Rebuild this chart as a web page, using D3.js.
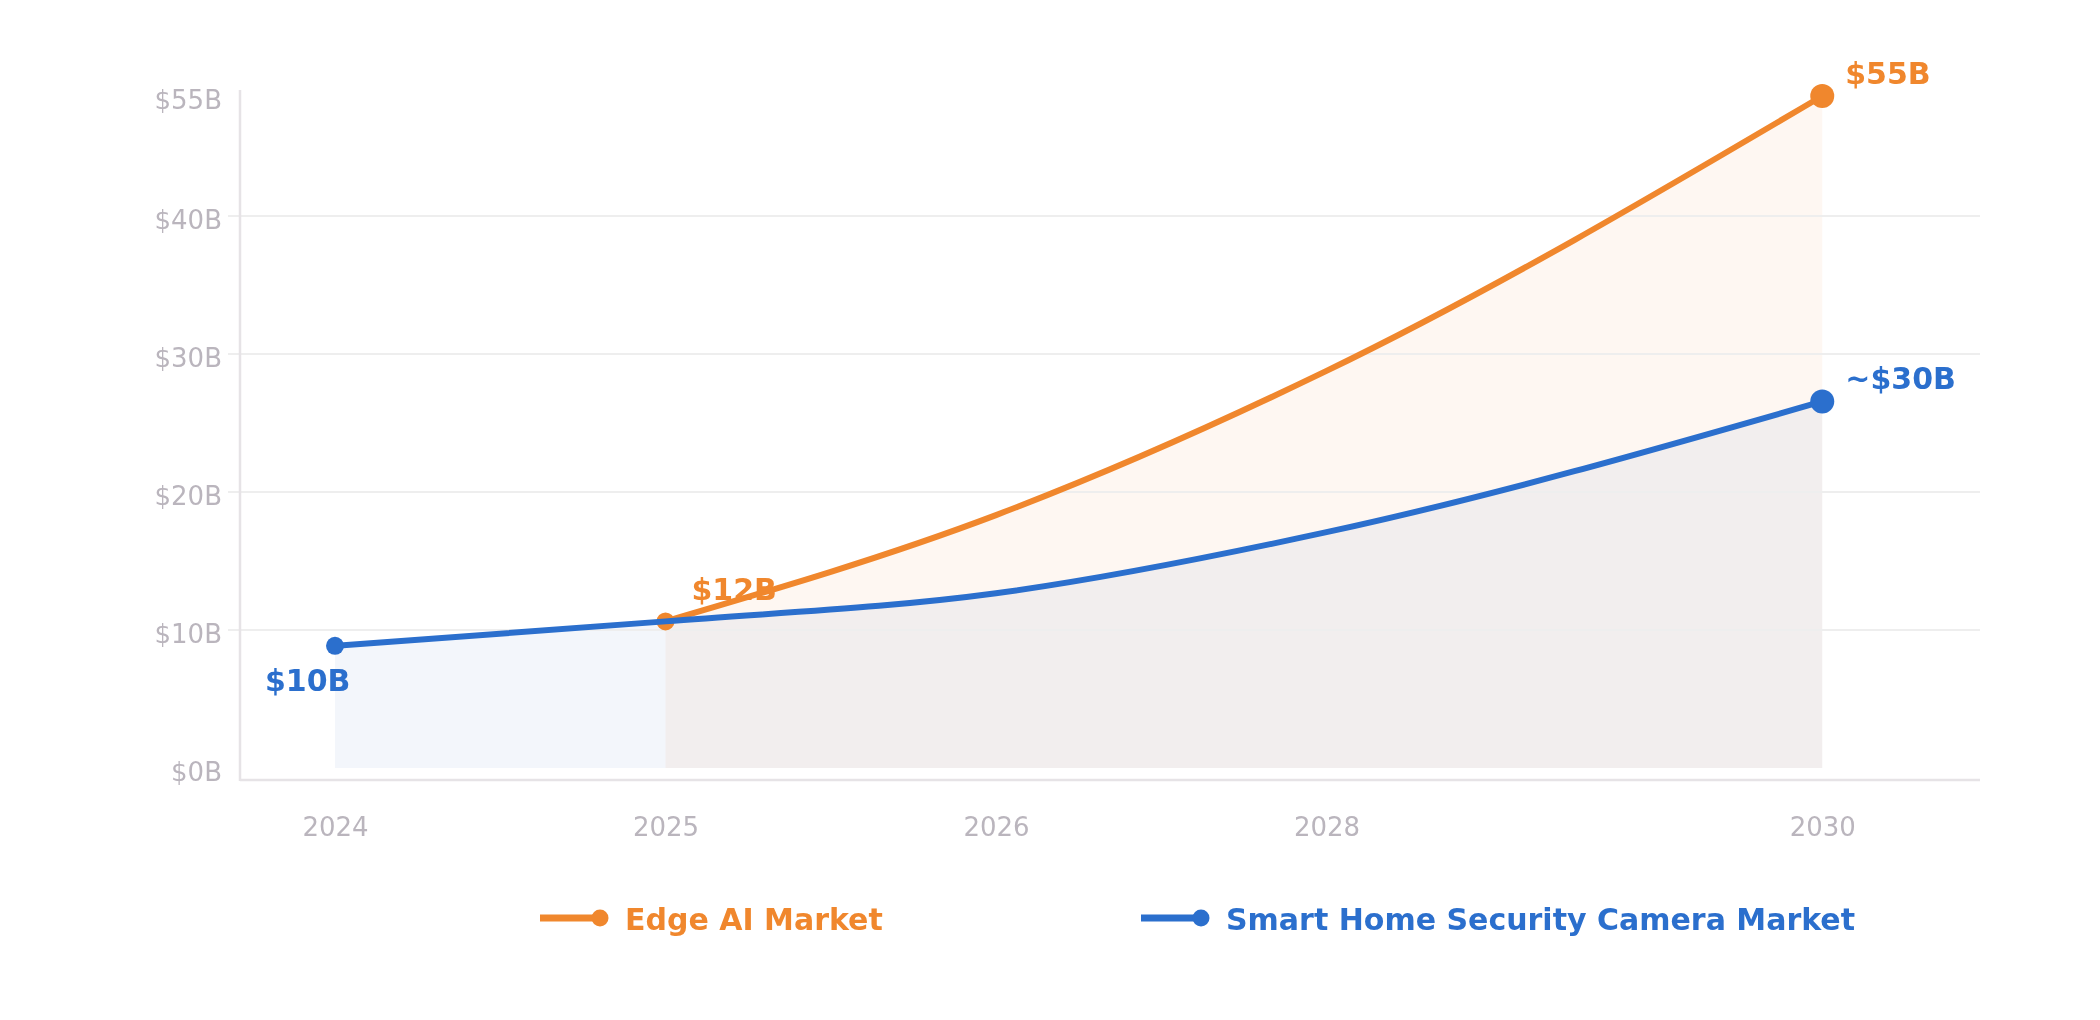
<!DOCTYPE html>
<html lang="en">
<head>
    <meta charset="UTF-8">
    <script src="https://d3js.org/d3.v7.min.js"></script>
    <title>Edge AI vs Smart Home Security Camera Market</title>
    <style>
        body { margin: 0; background: #fff; }
        svg { display: block; font-family: "DejaVu Sans", sans-serif; }
        .tick text { fill: #bab5bd; font-size: 26px; font-family: "DejaVu Sans", sans-serif; }
    </style>
</head>
<body>
    <div id="chart"></div>
    <script>
        // Data (billions of USD)
        const years = [2024, 2025, 2026, 2028, 2030];
        const yearLabels = ["2024", "2025", "2026", "2028", "2030"];
        const edgeYears = [2025, 2026, 2028, 2030];
        const edgeValues = [12, 20.7, 32.5, 55];
        const cameraYears = [2024, 2025, 2026, 2028, 2030];
        const cameraValues = [10, 12, 14.3, 19.3, 30];
        const yTicks = [0, 10, 20, 30, 40, 55];
        const gridTicks = [10, 20, 30, 40];
        const edgeLabels = [{ year: 2025, value: 12, text: "$12B" }, { year: 2030, value: 55, text: "$55B" }];
        const cameraLabels = [{ year: 2024, value: 10, text: "$10B" }, { year: 2030, value: 30, text: "~$30B" }];
        const seriesNames = ["Edge AI Market", "Smart Home Security Camera Market"];

        const orange = "#f0872d";
        const blue = "#2b6fcd";

        const width = 2100, height = 1020;
        const plotLeft = 240, plotRight = 1980, plotTop = 90, plotBottom = 780;
        const baseY = 768;

        const svg = d3.select("#chart").append("svg")
            .attr("width", width)
            .attr("height", height);

        // x slots: 2030 sits one and a half steps after 2028 in the reference
        const step = 330.5;
        const x = d3.scaleLinear()
            .domain(years)
            .range([0, 1, 2, 3, 4.5].map(i => 335 + i * step));

        // data scale
        const y = d3.scaleLinear().domain([0, 55]).range([baseY, 96]);
        // axis / grid scale (grid spacing differs from the data scale in the reference)
        const yAxisScale = d3.scaleLinear().domain([0, 40, 55]).range([baseY, 216, 96]);

        const edge = edgeYears.map((d, i) => ({ year: d, value: edgeValues[i] }));
        const camera = cameraYears.map((d, i) => ({ year: d, value: cameraValues[i] }));

        const area = d3.area()
            .x(d => x(d.year))
            .y0(y(0))
            .y1(d => y(d.value))
            .curve(d3.curveMonotoneX);

        const line = d3.line()
            .x(d => x(d.year))
            .y(d => y(d.value))
            .curve(d3.curveMonotoneX);

        // areas
        svg.append("path")
            .attr("d", area(camera))
            .attr("fill", "#f3f6fb");

        svg.append("path")
            .attr("d", area(edge))
            .attr("fill", "#fef7f2")
            .style("mix-blend-mode", "multiply");

        // grid lines
        svg.append("g")
            .selectAll("line")
            .data(gridTicks)
            .enter()
            .append("line")
            .attr("x1", plotLeft - 12)
            .attr("x2", plotRight)
            .attr("y1", d => yAxisScale(d))
            .attr("y2", d => yAxisScale(d))
            .attr("stroke", "#eeeeee")
            .attr("stroke-width", 2);

        // y axis
        const yAxis = svg.append("g")
            .attr("transform", `translate(${plotLeft},0)`)
            .call(d3.axisLeft(yAxisScale)
                .tickValues(yTicks)
                .tickFormat(d => `$${d}B`)
                .tickSize(0)
                .tickPadding(18));
        yAxis.select(".domain").remove();
        yAxis.selectAll(".tick text").attr("dy", "0.48em");

        // x axis
        const xAxis = svg.append("g")
            .attr("transform", `translate(0,${plotBottom})`)
            .call(d3.axisBottom(x)
                .tickValues(years)
                .tickFormat((d, i) => yearLabels[i])
                .tickSize(0)
                .tickPadding(38));
        xAxis.select(".domain").remove();

        // axis lines
        svg.append("line")
            .attr("x1", plotLeft).attr("x2", plotLeft)
            .attr("y1", plotTop).attr("y2", plotBottom + 1)
            .attr("stroke", "#e6e3e6")
            .attr("stroke-width", 2.5);
        svg.append("line")
            .attr("x1", plotLeft).attr("x2", plotRight)
            .attr("y1", plotBottom).attr("y2", plotBottom)
            .attr("stroke", "#e6e3e6")
            .attr("stroke-width", 2.5);

        // Edge AI line
        svg.append("path")
            .attr("d", line(edge))
            .attr("fill", "none")
            .attr("stroke", orange)
            .attr("stroke-width", 6);

        svg.selectAll(".edge-dot")
            .data([edge[0], edge[edge.length - 1]])
            .enter()
            .append("circle")
            .attr("class", "edge-dot")
            .attr("cx", d => x(d.year))
            .attr("cy", d => y(d.value))
            .attr("r", (d, i) => i === 0 ? 9 : 12)
            .attr("fill", orange);

        // Camera line
        svg.append("path")
            .attr("d", line(camera))
            .attr("fill", "none")
            .attr("stroke", blue)
            .attr("stroke-width", 6);

        svg.selectAll(".camera-dot")
            .data([camera[0], camera[camera.length - 1]])
            .enter()
            .append("circle")
            .attr("class", "camera-dot")
            .attr("cx", d => x(d.year))
            .attr("cy", d => y(d.value))
            .attr("r", (d, i) => i === 0 ? 9 : 12)
            .attr("fill", blue);

        // value annotations
        const edgeOffsets = [[26, -21], [23, -12]];
        const cameraOffsets = [[-70, 45], [23, -12]];

        svg.selectAll(".edge-label")
            .data(edgeLabels)
            .enter()
            .append("text")
            .attr("class", "edge-label")
            .attr("x", (d, i) => x(d.year) + edgeOffsets[i][0])
            .attr("y", (d, i) => y(d.value) + edgeOffsets[i][1])
            .attr("fill", orange)
            .style("font-size", "30px")
            .style("font-weight", "bold")
            .text(d => d.text);

        svg.selectAll(".camera-label")
            .data(cameraLabels)
            .enter()
            .append("text")
            .attr("class", "camera-label")
            .attr("x", (d, i) => x(d.year) + cameraOffsets[i][0])
            .attr("y", (d, i) => y(d.value) + cameraOffsets[i][1])
            .attr("fill", blue)
            .style("font-size", "30px")
            .style("font-weight", "bold")
            .text(d => d.text);

        // legend
        const legendX = [540, 1141];
        const legendColors = [orange, blue];
        const legend = svg.selectAll(".legend-item")
            .data(seriesNames)
            .enter()
            .append("g")
            .attr("class", "legend-item")
            .attr("transform", (d, i) => `translate(${legendX[i]},918)`);

        legend.append("line")
            .attr("x1", 0).attr("x2", 58)
            .attr("stroke", (d, i) => legendColors[i])
            .attr("stroke-width", 7);

        legend.append("circle")
            .attr("cx", 60)
            .attr("r", 8.5)
            .attr("fill", (d, i) => legendColors[i]);

        legend.append("text")
            .attr("x", 85)
            .attr("y", 12)
            .attr("fill", (d, i) => legendColors[i])
            .style("font-size", "30px")
            .style("font-weight", "bold")
            .text(d => d);
    </script>
</body>
</html>
